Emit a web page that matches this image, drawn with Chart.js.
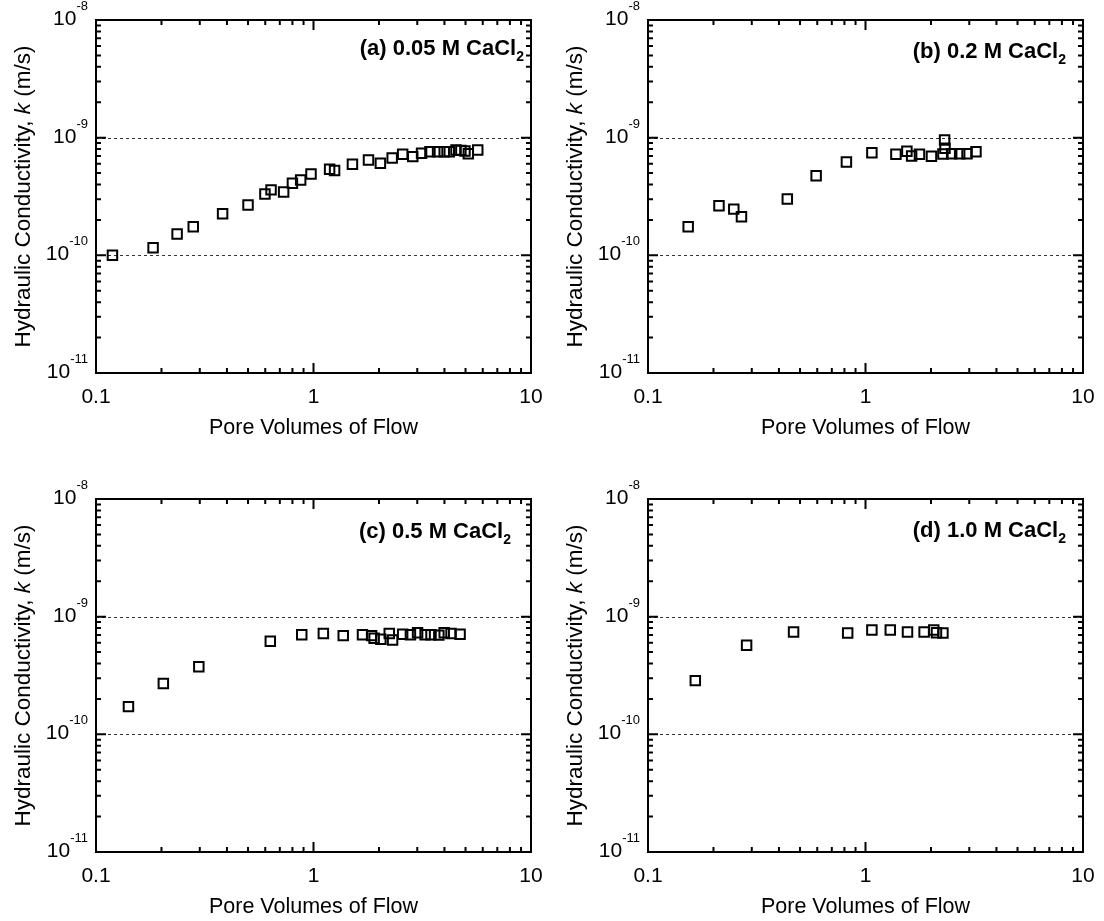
<!DOCTYPE html>
<html>
<head>
<meta charset="utf-8">
<script src="https://cdn.jsdelivr.net/npm/chart.js@4.4.1/dist/chart.umd.min.js"></script>
<style>
  body { margin: 0; background: #fff; }
  #wrap { position: relative; width: 1104px; height: 921px; }
  .panel { position: absolute; width: 552px; height: 460px; }
</style>
</head>
<body>
<div id="wrap">
  <div class="panel" style="left:0;top:0"><canvas id="chartA"></canvas></div>
  <div class="panel" style="left:552px;top:0"><canvas id="chartB"></canvas></div>
  <div class="panel" style="left:0;top:479px"><canvas id="chartC"></canvas></div>
  <div class="panel" style="left:552px;top:479px"><canvas id="chartD"></canvas></div>
</div>
<script>
// Pore volumes of flow (x) and hydraulic conductivity k in m/s (y), per panel
const aX = [0.119, 0.183, 0.236, 0.280, 0.382, 0.50, 0.598, 0.638, 0.729, 0.80, 0.873, 0.974,
  1.186, 1.25, 1.51, 1.79, 2.03, 2.30, 2.57, 2.86, 3.14, 3.43, 3.72, 3.99, 4.21, 4.52, 4.76,
  4.97, 5.15, 5.69];
const aK = [1.0e-10, 1.16e-10, 1.52e-10, 1.75e-10, 2.26e-10, 2.68e-10, 3.32e-10, 3.6e-10,
  3.46e-10, 4.1e-10, 4.37e-10, 4.92e-10, 5.38e-10, 5.25e-10, 5.94e-10, 6.47e-10, 6.06e-10,
  6.73e-10, 7.23e-10, 6.9e-10, 7.37e-10, 7.6e-10, 7.6e-10, 7.6e-10, 7.6e-10, 7.86e-10,
  7.8e-10, 7.7e-10, 7.3e-10, 7.86e-10];

const bX = [0.153, 0.212, 0.248, 0.269, 0.437, 0.593, 0.817, 1.07, 1.38, 1.55, 1.63, 1.77,
  2.01, 2.27, 2.31, 2.32, 2.49, 2.71, 2.93, 3.22];
const bK = [1.75e-10, 2.64e-10, 2.47e-10, 2.13e-10, 3.01e-10, 4.75e-10, 6.22e-10, 7.46e-10,
  7.23e-10, 7.66e-10, 7.0e-10, 7.23e-10, 6.95e-10, 7.25e-10, 9.55e-10, 8.13e-10, 7.3e-10,
  7.3e-10, 7.3e-10, 7.6e-10];

const cX = [0.141, 0.204, 0.297, 0.633, 0.883, 1.11, 1.37, 1.68, 1.85, 1.90, 2.04, 2.23, 2.31,
  2.57, 2.79, 3.01, 3.26, 3.47, 3.77, 3.99, 4.29, 4.72];
const cK = [1.72e-10, 2.7e-10, 3.76e-10, 6.18e-10, 7.03e-10, 7.18e-10, 6.9e-10, 7.03e-10,
  6.9e-10, 6.55e-10, 6.43e-10, 7.2e-10, 6.34e-10, 7.1e-10, 7.03e-10, 7.31e-10, 7.03e-10,
  7.03e-10, 6.97e-10, 7.3e-10, 7.2e-10, 7.1e-10];

const dX = [0.165, 0.284, 0.467, 0.828, 1.07, 1.30, 1.56, 1.86, 2.06, 2.12, 2.27];
const dK = [2.86e-10, 5.71e-10, 7.41e-10, 7.26e-10, 7.7e-10, 7.7e-10, 7.41e-10, 7.41e-10,
  7.7e-10, 7.3e-10, 7.26e-10];

const panelTitles = ['(a) 0.05 M CaCl', '(b) 0.2 M CaCl', '(c) 0.5 M CaCl', '(d) 1.0 M CaCl'];
const xTickLabels = ['0.1', '1', '10'];
const xMajor = [0.1, 1, 10];
const yMajorExp = [-11, -10, -9, -8];
const gridK = [1e-10, 1e-9];

const FONT = "'Liberation Sans', Arial, sans-serif";

function drawPow(ctx, exp, right, py) {
  ctx.font = '21px ' + FONT;
  const wBase = ctx.measureText('10').width;
  ctx.font = '13px ' + FONT;
  const sup = String(exp);
  const wSup = ctx.measureText(sup).width;
  const left = right - wBase - wSup;
  ctx.font = '21px ' + FONT;
  ctx.fillText('10', left, py + 5);
  ctx.font = '13px ' + FONT;
  ctx.fillText(sup, left + wBase, py - 10);
}

// axes frame, inward ticks, labels and titles
const frame = {
  id: 'frame',
  beforeDatasetsDraw(chart) {
    const { ctx, chartArea: a, scales: { y } } = chart;
    ctx.save();
    ctx.strokeStyle = '#333';
    ctx.lineWidth = 1;
    ctx.setLineDash([3, 3]);
    gridK.forEach(v => {
      const py = Math.round(y.getPixelForValue(v)) + 0.5;
      ctx.beginPath();
      ctx.moveTo(a.left, py);
      ctx.lineTo(a.right, py);
      ctx.stroke();
    });
    ctx.restore();
  },
  afterDraw(chart, args, opts) {
    const { ctx, chartArea: a, scales: { x, y } } = chart;
    ctx.save();
    ctx.strokeStyle = '#000';
    ctx.fillStyle = '#000';
    ctx.lineWidth = 2;
    ctx.strokeRect(a.left, a.top, a.right - a.left, a.bottom - a.top);

    // x ticks
    ctx.beginPath();
    for (let d = 0.1; d < 10; d *= 10) {
      for (let m = 1; m <= 9; m++) {
        const px = x.getPixelForValue(d * m);
        const len = m === 1 ? 10 : 5;
        ctx.moveTo(px, a.bottom); ctx.lineTo(px, a.bottom - len);
        ctx.moveTo(px, a.top); ctx.lineTo(px, a.top + len);
      }
    }
    // y ticks
    for (let e = -11; e < -8; e++) {
      for (let m = 1; m <= 9; m++) {
        const py = y.getPixelForValue(m * Math.pow(10, e));
        const len = m === 1 ? 10 : 5;
        ctx.moveTo(a.left, py); ctx.lineTo(a.left + len, py);
        ctx.moveTo(a.right, py); ctx.lineTo(a.right - len, py);
      }
    }
    ctx.stroke();

    // x tick labels
    ctx.font = '21px ' + FONT;
    ctx.textAlign = 'center';
    ctx.textBaseline = 'alphabetic';
    xMajor.forEach((v, i) => {
      ctx.fillText(xTickLabels[i], x.getPixelForValue(v), a.bottom + 30);
    });
    // y tick labels
    ctx.textAlign = 'left';
    yMajorExp.forEach(e => {
      drawPow(ctx, e, a.left - 8, y.getPixelForValue(Math.pow(10, e)));
    });

    // x title
    ctx.font = '21.5px ' + FONT;
    ctx.textAlign = 'center';
    ctx.fillText('Pore Volumes of Flow', (a.left + a.right) / 2, a.bottom + 61);

    // y title with italic k
    ctx.save();
    ctx.translate(30, (a.top + a.bottom) / 2);
    ctx.rotate(-Math.PI / 2);
    const parts = [['Hydraulic Conductivity, ', ''], ['k', 'italic '], [' (m/s)', '']];
    let total = 0;
    parts.forEach(p => { ctx.font = p[1] + '22.5px ' + FONT; total += ctx.measureText(p[0]).width; });
    let cx = -total / 2;
    ctx.textAlign = 'left';
    parts.forEach(p => {
      ctx.font = p[1] + '22.5px ' + FONT;
      ctx.fillText(p[0], cx, 0);
      cx += ctx.measureText(p[0]).width;
    });
    ctx.restore();

    // panel title with subscript 2
    ctx.font = 'bold 22px ' + FONT;
    const wMain = ctx.measureText(opts.title).width;
    ctx.font = 'bold 14px ' + FONT;
    const wSub = ctx.measureText('2').width;
    const tx = a.right - opts.inset - wSub - wMain;
    const ty = a.top + opts.base;
    ctx.textAlign = 'left';
    ctx.font = 'bold 22px ' + FONT;
    ctx.fillText(opts.title, tx, ty);
    ctx.font = 'bold 14px ' + FONT;
    ctx.fillText('2', tx + wMain, ty + 6);
    ctx.restore();
  }
};

function makeChart(id, xs, ks, title, inset, base) {
  const pts = xs.map((v, i) => ({ x: v, y: ks[i] }));
  return new Chart(document.getElementById(id), {
    type: 'scatter',
    data: {
      datasets: [{
        data: pts,
        pointStyle: 'rect',
        pointRadius: 6.7,
        pointBorderWidth: 2,
        borderColor: '#000',
        backgroundColor: 'rgba(0,0,0,0)',
      }],
    },
    options: {
      responsive: false,
      animation: false,
      layout: { padding: { top: 20, right: 21, left: 0, bottom: 0 } },
      plugins: {
        legend: { display: false },
        tooltip: { enabled: false },
        frame: { title: title, inset: inset, base: base },
      },
      scales: {
        x: {
          type: 'logarithmic', min: 0.1, max: 10,
          grid: { display: false }, border: { display: false },
          ticks: { display: false },
          afterFit: s => { s.height = 87; },
        },
        y: {
          type: 'logarithmic', min: 1e-11, max: 1e-8,
          grid: { display: false }, border: { display: false },
          ticks: { display: false },
          afterFit: s => { s.width = 96; },
        },
      },
    },
    plugins: [frame],
  });
}

document.querySelectorAll('canvas').forEach(c => { c.width = 552; c.height = 460; });
makeChart('chartA', aX, aK, panelTitles[0], 7, 35);
makeChart('chartB', bX, bK, panelTitles[1], 17, 38);
makeChart('chartC', cX, cK, panelTitles[2], 20, 39);
makeChart('chartD', dX, dK, panelTitles[3], 17, 38);
</script>
</body>
</html>
